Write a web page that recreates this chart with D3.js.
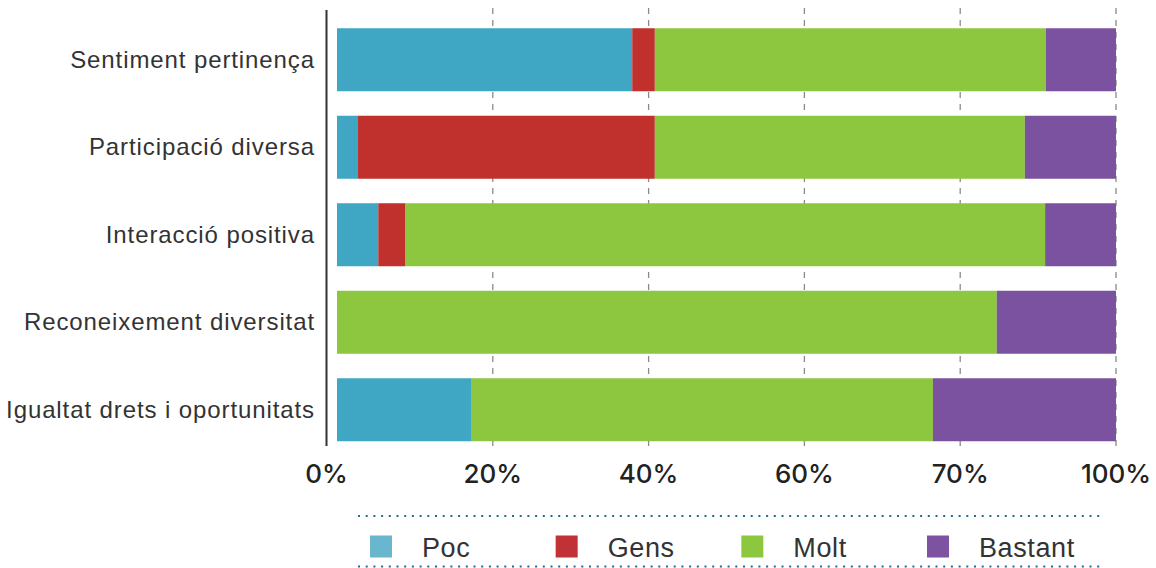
<!DOCTYPE html>
<html>
<head>
<meta charset="utf-8">
<script src="https://cdn.jsdelivr.net/npm/d3@7"></script>
<style>
  body { margin: 0; background: #fff; }
  svg { display: block; }
  .cat { font-family: "Liberation Sans", Arial, sans-serif; font-size: 24px; letter-spacing: 0.9px; fill: #333; }
  .tick-label { font-family: Inter, Roboto, sans-serif; font-weight: 500; font-size: 26px; fill: #222; }
  .legend-label { font-family: "Liberation Sans", Arial, sans-serif; font-size: 27px; letter-spacing: 0.6px; fill: #333; }
</style>
</head>
<body>
<svg width="1156" height="568"></svg>
<script>
var categories = ['Sentiment pertinença', 'Participació diversa', 'Interacció positiva', 'Reconeixement diversitat', 'Igualtat drets i oportunitats'];
var seriesNames = ['Poc', 'Gens', 'Molt', 'Bastant'];
var poc     = [37.9, 2.7, 5.3, 0, 17.2];
var gens    = [2.9, 38.1, 3.5, 0, 0];
var molt    = [50.2, 47.5, 82.1, 84.7, 59.3];
var bastant = [9.0, 11.7, 9.1, 15.3, 23.5];
var tickValues = [0, 20, 40, 60, 80, 100];
var tickLabels = ['0%', '20%', '40%', '60%', '70%', '100%'];

var barColors = ['#3fa7c4', '#c0302d', '#8dc63f', '#7b52a0'];
var legendColors = ['#68b7cf', '#c03236', '#8dc63f', '#7d52a0'];

var svg = d3.select('svg');

var rows = categories.map(function(c, i) {
    return { cat: c, Poc: poc[i], Gens: gens[i], Molt: molt[i], Bastant: bastant[i] };
});

var x = d3.scaleLinear().domain([0, 100]).range([337, 1116]);
var y = d3.scaleBand().domain(categories).range([16, 453.5])
    .paddingInner(0.28).paddingOuter(0.14);
var color = d3.scaleOrdinal().domain(seriesNames).range(barColors);

var axisX = 326.5;

// dashed gridlines
svg.append('g').selectAll('line')
    .data(tickValues.filter(function(d) { return d > 0; }))
    .enter().append('line')
    .attr('x1', function(d) { return x(d); })
    .attr('x2', function(d) { return x(d); })
    .attr('y1', 8)
    .attr('y2', 452)
    .attr('stroke', '#8a8a8a')
    .attr('stroke-width', 1.3)
    .attr('stroke-dasharray', '6,6');

// stacked bars
var stack = d3.stack().keys(seriesNames)(rows);

svg.append('g').selectAll('g')
    .data(stack)
    .enter().append('g')
    .attr('fill', function(d) { return color(d.key); })
    .selectAll('rect')
    .data(function(d) { return d; })
    .enter().append('rect')
    .attr('x', function(d) { return x(d[0]); })
    .attr('width', function(d) { return x(d[1]) - x(d[0]); })
    .attr('y', function(d) { return y(d.data.cat); })
    .attr('height', y.bandwidth());

// left axis line
svg.append('line')
    .attr('x1', axisX).attr('x2', axisX)
    .attr('y1', 10).attr('y2', 446)
    .attr('stroke', '#333')
    .attr('stroke-width', 2);

// category labels
svg.append('g').selectAll('text')
    .data(categories)
    .enter().append('text')
    .attr('class', 'cat')
    .attr('x', 315)
    .attr('y', function(d) { return y(d) + y.bandwidth() / 2 + 8; })
    .attr('text-anchor', 'end')
    .text(function(d) { return d; });

// percent tick labels
svg.append('g').selectAll('text')
    .data(tickValues)
    .enter().append('text')
    .attr('class', 'tick-label')
    .attr('x', function(d) { return d === 0 ? axisX : x(d); })
    .attr('y', 483)
    .attr('text-anchor', 'middle')
    .text(function(d, i) { return tickLabels[i]; });

// legend
var legendX = d3.scalePoint().domain(seriesNames).range([370, 927]);

[516, 566.5].forEach(function(ly) {
    svg.append('line')
        .attr('x1', 358).attr('x2', 1100)
        .attr('y1', ly).attr('y2', ly)
        .attr('stroke', '#1d6f8d')
        .attr('stroke-width', 2)
        .attr('stroke-dasharray', '2,5.7');
});

var legend = svg.append('g').selectAll('g')
    .data(seriesNames)
    .enter().append('g')
    .attr('transform', function(d) { return 'translate(' + legendX(d) + ',0)'; });

legend.append('rect')
    .attr('x', 0).attr('y', 535.5)
    .attr('width', 22).attr('height', 22)
    .attr('fill', function(d, i) { return legendColors[i]; });

legend.append('text')
    .attr('class', 'legend-label')
    .attr('x', 52)
    .attr('y', 557)
    .text(function(d) { return d; });
</script>
</body>
</html>
